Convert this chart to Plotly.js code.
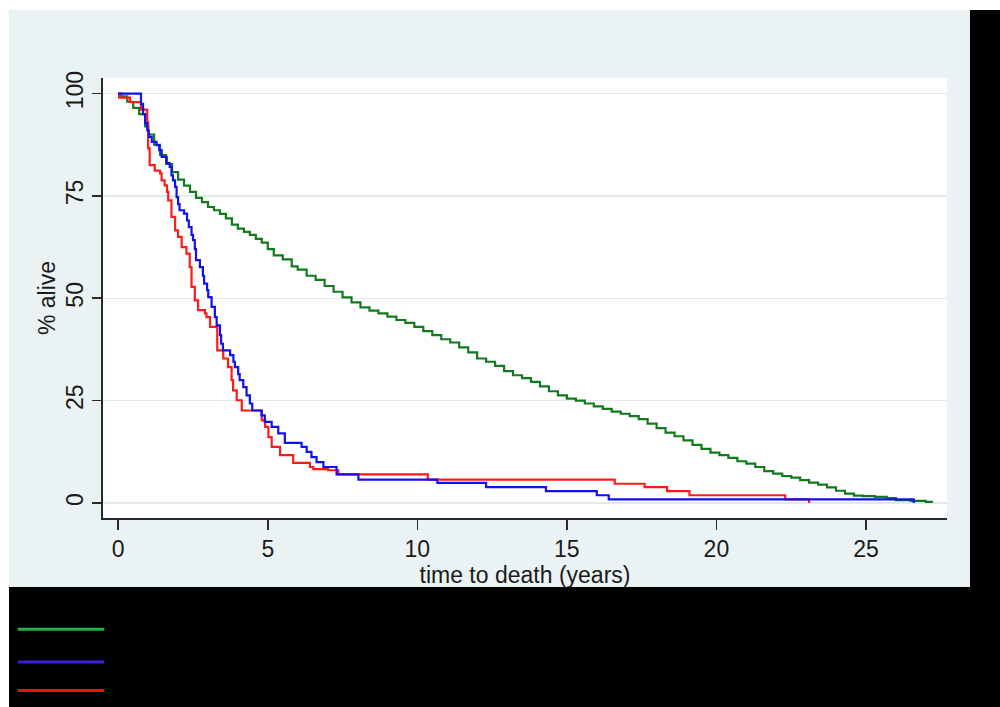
<!DOCTYPE html>
<html><head><meta charset="utf-8">
<script src="https://cdn.plot.ly/plotly-3.0.1.min.js"></script>
<style>
html,body{margin:0;padding:0;background:#fff;width:1000px;height:707px;overflow:hidden;}
#blk{position:absolute;left:9px;top:10px;width:991px;height:697px;background:#000;}
#bg{position:absolute;left:9px;top:10px;width:961px;height:577px;background:#eaf2f3;}
#chart{position:absolute;left:0;top:0;width:1000px;height:707px;}
</style></head><body>
<div id="blk"></div><div id="bg"></div><div id="chart"></div>
<script>
// Kaplan-Meier survival curves (% alive vs years)
const greenTime = [0,0.1,0.3,0.5,0.7,0.9,1.0,1.2,1.4,1.6,1.8,2.0,2.2,2.4,2.6,2.8,3.0,3.2,3.4,3.6,3.8,4.0,4.2,4.4,4.6,4.8,5.0,5.2,5.5,5.8,6.0,6.3,6.6,6.9,7.2,7.5,7.8,8.1,8.4,8.7,9.0,9.3,9.6,9.9,10.2,10.5,10.8,11.1,11.4,11.7,12.0,12.3,12.6,12.9,13.2,13.5,13.8,14.1,14.4,14.7,15.0,15.3,15.6,15.9,16.2,16.5,16.8,17.1,17.4,17.7,18.0,18.3,18.6,18.9,19.2,19.5,19.8,20.1,20.4,20.7,21.0,21.3,21.6,21.9,22.2,22.5,22.8,23.1,23.4,23.7,24.0,24.3,24.6,24.9,25.3,25.7,26.0,26.5,27.0,27.2];
const greenSurv = [100,99.3,98,96.5,95,92,90,87.5,85,82.8,80.8,79,77.5,76,74.5,73.5,72.3,71.5,70.6,69.5,68,67,66.2,65.5,64.5,63.6,62,60.5,59.5,57.8,57,55.5,54.5,53,51.6,50.2,49,47.8,47,46.3,45.5,44.7,44,43,42,41,40,39.2,38,36.8,35.3,34.5,33.5,32.2,31.2,30.5,29.6,28.5,27.3,26.3,25.5,25,24.3,23.6,23,22.3,21.8,21.2,20.5,19.4,18.3,17.2,16.3,15.3,14.2,13.2,12.3,11.7,11,10.2,9.6,8.8,7.8,7.2,6.6,6.2,5.6,5,4.5,3.8,3,2.3,1.8,1.7,1.5,1.2,0.7,0.5,0.3,0];

const blueTime = [0,0.76,0.83,0.9,0.97,1.02,1.12,1.28,1.37,1.45,1.62,1.72,1.78,1.83,1.9,1.95,2.0,2.05,2.2,2.3,2.36,2.45,2.5,2.56,2.6,2.73,2.83,2.87,2.97,3.01,3.12,3.23,3.29,3.4,3.44,3.5,3.74,3.85,3.9,4.01,4.06,4.18,4.29,4.4,4.48,4.79,4.9,5.13,5.35,5.57,6.13,6.3,6.46,6.63,6.86,7.3,8.03,10.67,12.3,14.3,16.0,16.4,26.6];
const blueSurv = [100,97.5,95,92.7,91,89.4,88.2,87.4,86.2,84.5,83,82.1,80,78.8,77.2,74.7,73,71.5,70.7,69,67.4,65.5,64.2,62,59.3,57.6,55.5,53.6,52,50.3,47.9,45.4,43.4,41,38.9,37.3,36.1,34.5,33.2,31.5,30,28.3,26.3,24.3,22.6,21.4,19.8,18.6,17,14.7,13.7,12.5,11.2,10,8.8,7.0,5.7,4.9,3.9,2.9,1.9,0.9,0];

const redTime = [0,0.03,0.39,0.76,0.97,1.0,1.05,1.22,1.4,1.45,1.55,1.63,1.67,1.78,1.9,2.0,2.12,2.28,2.39,2.45,2.56,2.67,2.9,2.95,3.07,3.31,3.51,3.67,3.79,3.84,3.96,4.13,4.8,4.91,5.02,5.13,5.41,5.85,6.41,6.52,7.02,7.36,10.35,16.6,17.6,18.35,19.1,22.3,23.1];
const redSurv = [100,99,97.9,96.1,93,86.6,82.5,81.2,80.5,78.8,77.6,76,73.9,69.9,66.6,65,62.5,60.9,57.6,52.8,49.5,47.1,46.3,45.4,43,37.3,35.3,33.2,30,27.5,25.1,22.6,20.2,18.6,16.1,13.7,11.7,9.8,8.8,8.3,8.0,7.0,5.7,4.7,3.9,2.9,1.9,0.9,0];

const xTicks = [0,5,10,15,20,25];
const yTicks = [0,25,50,75,100];
const xTitle = 'time to death (years)';
const yTitle = '% alive';

const FONT = '"Liberation Sans", Arial, sans-serif';
const traces = [
  {x: greenTime, y: greenSurv, mode:'lines', line:{shape:'hv', color:'#127a1e', width:2.2}, hoverinfo:'skip'},
  {x: redTime, y: redSurv, mode:'lines', line:{shape:'hv', color:'#ff1a1a', width:2.2}, hoverinfo:'skip'},
  {x: blueTime, y: blueSurv, mode:'lines', line:{shape:'hv', color:'#1010f0', width:2.2}, hoverinfo:'skip'}
];

const layout = {
  width:1000, height:707,
  margin:{l:103, r:53, t:78, b:189, pad:0},
  paper_bgcolor:'rgba(0,0,0,0)',
  plot_bgcolor:'#ffffff',
  showlegend:false,
  font:{family:FONT, size:23, color:'#1a1a1a'},
  xaxis:{
    range:[-0.51, 27.71], tickmode:'array', tickvals:xTicks, ticktext:xTicks.map(String),
    showgrid:false, zeroline:false, showline:true, linecolor:'#2a2a2a', linewidth:1.6,
    ticks:'outside', ticklen:10, tickwidth:1.6, tickcolor:'#2a2a2a',
    tickfont:{family:FONT, size:23, color:'#1a1a1a'},
    title:{text:xTitle, font:{family:FONT, size:23, color:'#1a1a1a'}, standoff:0}
  },
  yaxis:{
    range:[-3.66, 103.8], tickmode:'array', tickvals:yTicks, ticktext:yTicks.map(String),
    tickangle:-90,
    showgrid:true, gridcolor:'#e2e9eb', gridwidth:1.5, zeroline:false,
    showline:true, linecolor:'#2a2a2a', linewidth:1.6,
    ticks:'outside', ticklen:9, tickwidth:1.6, tickcolor:'#2a2a2a',
    tickfont:{family:FONT, size:23, color:'#1a1a1a'},
    title:{text:yTitle, font:{family:FONT, size:23, color:'#1a1a1a'}, standoff:0}
  },
  shapes:[
    {type:'line', xref:'paper', yref:'paper', x0:-0.101, x1:0.0015, y0:-0.253, y1:-0.253, line:{color:'#22b14c', width:3}},
    {type:'line', xref:'paper', yref:'paper', x0:-0.101, x1:0.0015, y0:-0.327, y1:-0.327, line:{color:'#3a1fe0', width:3}},
    {type:'line', xref:'paper', yref:'paper', x0:-0.101, x1:0.0015, y0:-0.392, y1:-0.392, line:{color:'#ff0a0a', width:3}}
  ]
};

Plotly.newPlot('chart', traces, layout, {displayModeBar:false, staticPlot:true});
</script>
</body></html>
